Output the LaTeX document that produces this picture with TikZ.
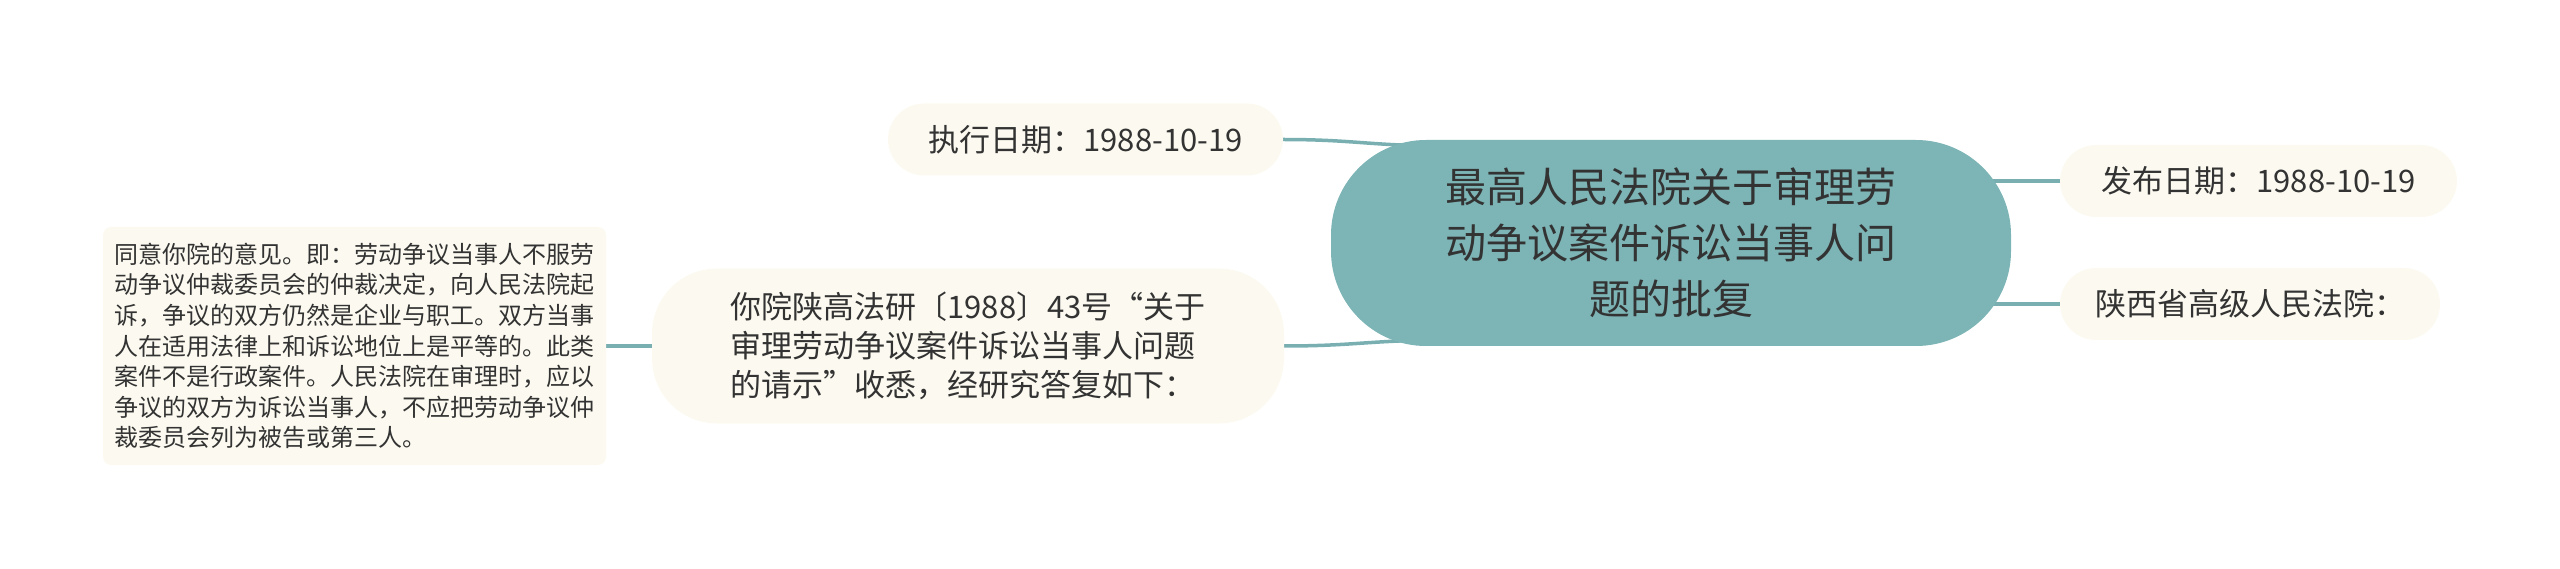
\documentclass[tikz,border=0pt]{standalone}
\usepackage{fontspec}
\newfontfamily\cjk{Noto Sans CJK SC}
\usepackage{xcolor}
\usetikzlibrary{calc, backgrounds}
\definecolor{rootteal}{HTML}{7DB4B6}
\definecolor{linkteal}{HTML}{7AAFB2}
\definecolor{leafcream}{HTML}{FCFAF0}
\definecolor{inkgray}{HTML}{333333}

\begin{document}
\begin{tikzpicture}[x=1pt, y=-1pt]

        % 1. Canvas of the picture (pixel units, y going down)
        \useasboundingbox (0,0) rectangle (2560,569);

        % 2. Styles for the map
        \tikzset{
            topic/.style={rectangle, rounded corners=95pt, fill=rootteal, text=inkgray, minimum width=680pt, minimum height=206pt, inner sep=0pt, align=center, font=\cjk\fontsize{41}{56}\selectfont},
            leaf/.style={rectangle, fill=leafcream, text=inkgray, minimum height=72pt, inner sep=0pt, font=\cjk\fontsize{31}{40}\selectfont},
            link/.style={draw=linkteal, line width=3.5pt},
        }

        % 3. Central topic
        \node[topic] (root) at (1671,243) {最高人民法院关于审理劳\\动争议案件诉讼当事人问\\题的批复};

        % 4. Branches on the right
        \node[leaf, rounded corners=36pt, minimum width=397pt] (pub) at (2258.5,181) {发布日期：1988-10-19};
        \node[leaf, rounded corners=36pt, minimum width=380pt] (court) at (2250,304) {陕西省高级人民法院：};

        % 5. Branches on the left
        \node[leaf, rounded corners=36pt, minimum width=395pt] (exec) at (1085.5,139.5) {执行日期：1988-10-19};
        \node[leaf, rounded corners=65pt, minimum width=632pt, minimum height=155pt, align=left, font=\cjk\fontsize{31}{39}\selectfont] (ask) at (968,346) {你院陕高法研〔1988〕43号“关于\\审理劳动争议案件诉讼当事人问题\\的请示”收悉，经研究答复如下：};
        \node[leaf, rounded corners=8pt, minimum width=503pt, minimum height=238pt, align=left, font=\cjk\fontsize{24}{30.6}\selectfont] (reply) at (354.5,346) {同意你院的意见。即：劳动争议当事人不服劳\\动争议仲裁委员会的仲裁决定，向人民法院起\\诉，争议的双方仍然是企业与职工。双方当事\\人在适用法律上和诉讼地位上是平等的。此类\\案件不是行政案件。人民法院在审理时，应以\\争议的双方为诉讼当事人，不应把劳动争议仲\\裁委员会列为被告或第三人。};

        % 6. Connectors (behind the nodes)
        \coordinate (rootNW) at ($(root.north west)+(110,6)$);
        \coordinate (rootSW) at ($(root.south west)+(110,-6)$);
        \begin{pgfonlayer}{background}
            \draw[link] (exec.east) .. controls +(70,0) and +(-70,0) .. (rootNW);
            \draw[link] (ask.east) .. controls +(70,0) and +(-70,0) .. (rootSW);
            \draw[link] (root.center |- pub.west) -- (pub.west);
            \draw[link] (root.center |- court.west) -- (court.west);
            \draw[link] (reply.east) -- (ask.west);
        \end{pgfonlayer}

\end{tikzpicture}
\end{document}
